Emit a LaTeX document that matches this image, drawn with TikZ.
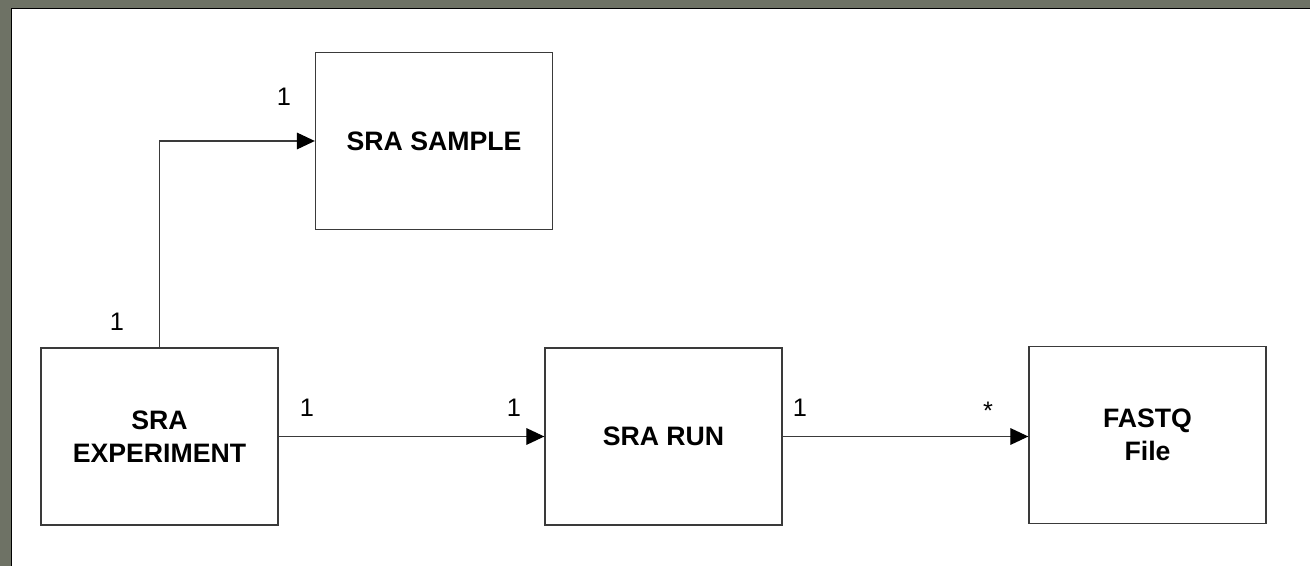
\documentclass[tikz,border=0pt]{standalone}
\usepackage{fontspec}
\setmainfont{Liberation Sans}
\usetikzlibrary{arrows.meta}
\definecolor{frame}{HTML}{6E7265}
\definecolor{boxline}{HTML}{3A3A3A}
\tikzset{
  entity/.style={draw=boxline, line width=1pt, fill=white, minimum width=237*0.75pt, minimum height=177*0.75pt, inner sep=0pt, align=center, font=\fontsize{20pt}{24.75pt}\selectfont\bfseries},
  link/.style={draw=boxline, line width=0.9pt, -{Triangle[length=13.5pt,width=12.5pt,color=black]}},
  mult/.style={font=\fontsize{19pt}{20pt}\selectfont, inner sep=0pt}
}
\begin{document}
\begin{tikzpicture}[x=0.75pt,y=-0.75pt]
\useasboundingbox (0,0) rectangle (1310,566);
\fill[frame] (0,0) rectangle (1310,566);
\fill[white] (11,8) rectangle (1310,566);
\draw[black, line width=1.2pt] (11.5,566) -- (11.5,8.5) -- (1310,8.5);
\node[entity] (sample) at (434,141) {SRA SAMPLE};
\node[entity] (exp) at (159.5,436.5) {SRA\\EXPERIMENT};
\node[entity] (run) at (663.5,436.5) {SRA RUN};
\node[entity] (fastq) at (1147.5,435) {FASTQ\\File};
\draw[link] (exp.north) |- (sample.west);
\draw[link] (exp.east) -- (run.west);
\draw[link] (run.east) -- (run.east -| fastq.west);
\node[mult] (m1) at (284,97) {1};
\node[mult] (m2) at (117,322) {1};
\node[mult] (m3) at (307,408) {1};
\node[mult] (m4) at (514,408) {1};
\node[mult] (m5) at (800,408) {1};
\node[mult] (m6) at (988,411) {*};
\end{tikzpicture}
\end{document}
